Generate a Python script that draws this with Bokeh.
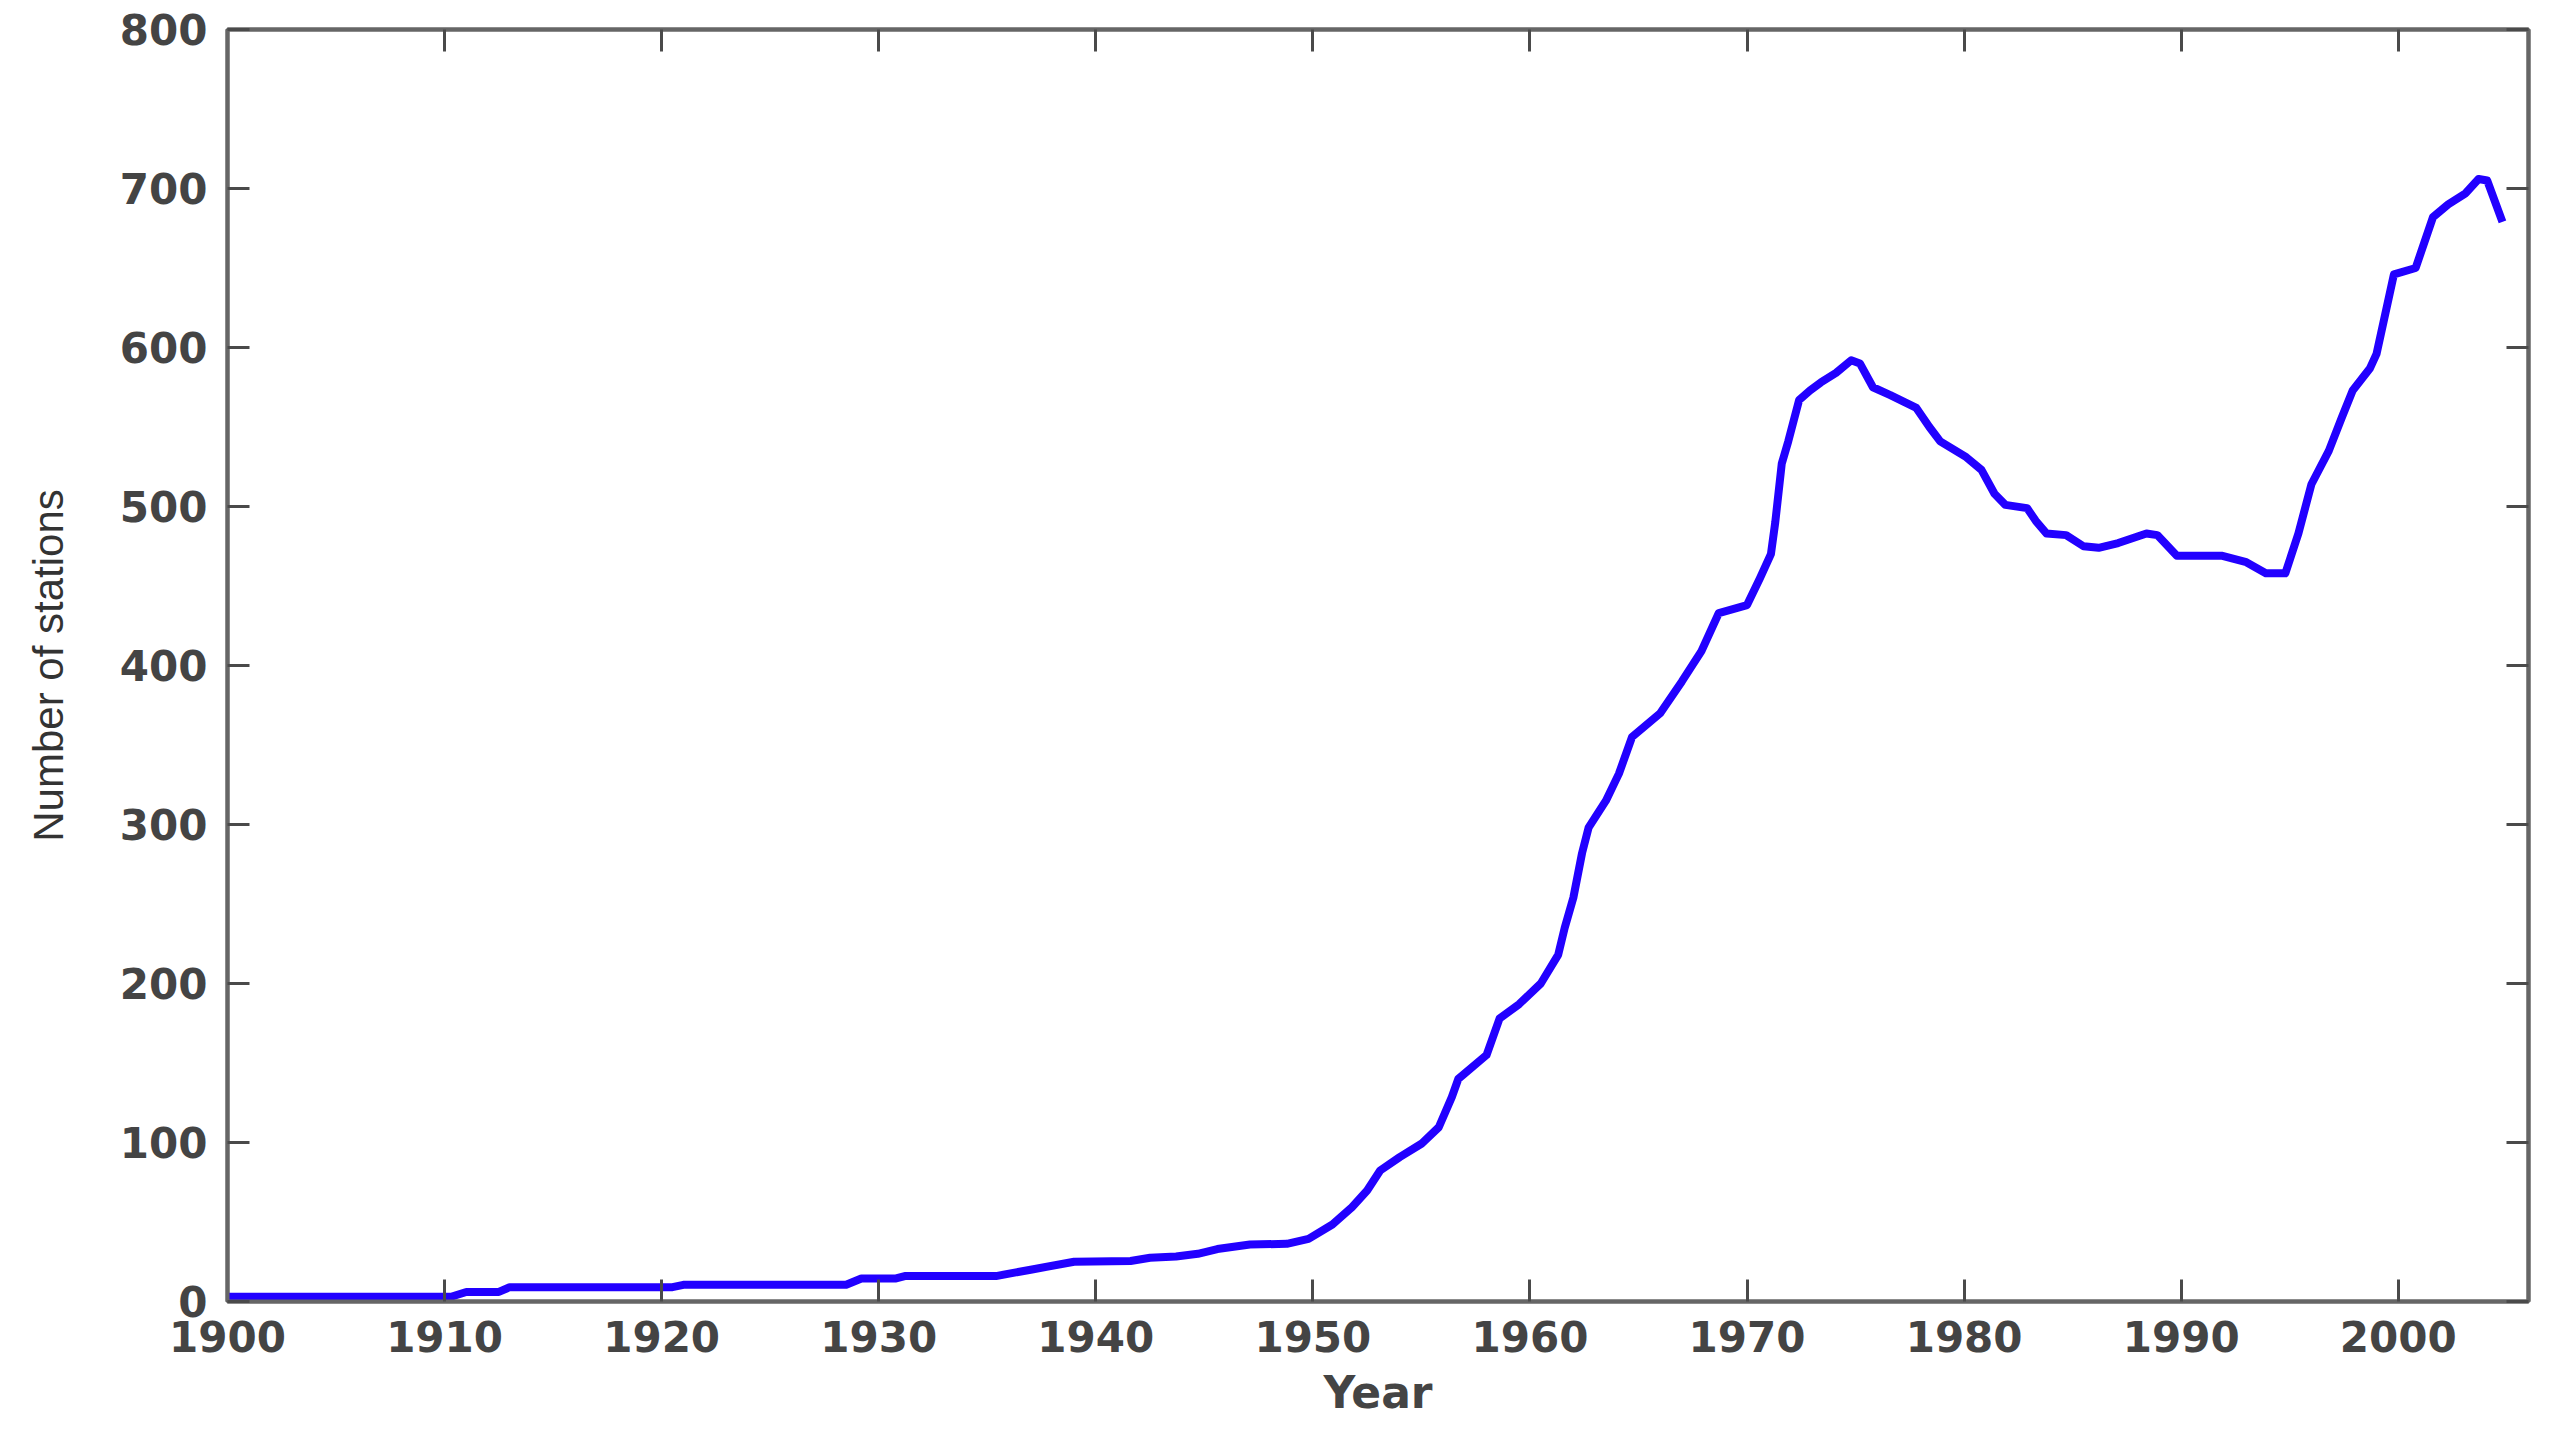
from bokeh.plotting import figure
from bokeh.models import Range1d, LinearAxis, FixedTicker
from bokeh.embed import file_html
from bokeh.resources import INLINE

# ---- data ----
years = [1900, 1910.3, 1911, 1912.5, 1913, 1920.5, 1921, 1928.5, 1929.2, 1930.8,
         1931.2, 1935.4, 1937, 1939, 1941.6, 1942.5, 1943.7, 1944.7, 1945.6, 1947.1,
         1948.8, 1949.8, 1950.9, 1951.8, 1952.5, 1953.1, 1954, 1955, 1955.8, 1956.4,
         1956.7, 1958, 1958.6, 1959.5, 1960.5, 1961.3, 1961.6, 1962, 1962.4, 1962.7,
         1963.5, 1964.1, 1964.7, 1966, 1967, 1967.9, 1968.7, 1970, 1970.6, 1971.1,
         1971.3, 1971.6, 1971.9, 1972.4, 1972.9, 1973.4, 1974.1, 1974.8, 1975.2, 1975.8,
         1976.6, 1977.8, 1978.4, 1978.9, 1980.1, 1980.8, 1981.4, 1981.9, 1982.9, 1983.3,
         1983.8, 1984.7, 1985.5, 1986.2, 1987.1, 1988.4, 1988.9, 1989.8, 1991.9, 1993,
         1993.9, 1994.8, 1995.4, 1996, 1996.8, 1997.4, 1997.9, 1998.7, 1999, 1999.4,
         1999.8, 2000.8, 2001.6, 2002.3, 2003.1, 2003.7, 2004.1, 2004.8]
stations = [3, 3, 6, 6, 9, 9, 10.5, 10.5, 14.5, 14.5,
            16, 16, 20, 25, 25.5, 27.5, 28.3, 30, 33, 35.8,
            36.3, 39.4, 48.4, 59.3, 69.8, 82.4, 90.8, 99.2, 109.6, 128.5,
            140, 155, 178, 187, 200, 218, 235, 254, 282, 298,
            315, 332, 355, 370, 390, 409, 433, 438, 455, 470,
            490, 527, 541, 567, 573, 578, 584, 592, 590, 575,
            570, 562, 550, 541, 531, 523, 508, 501, 499, 491,
            483, 482, 475, 474, 477, 483, 482, 469, 469, 465,
            458, 458, 483, 514, 535, 556, 573, 587, 596, 621,
            646, 650, 682, 690, 697, 706, 705, 679]

x_ticks = [1900, 1910, 1920, 1930, 1940, 1950, 1960, 1970, 1980, 1990, 2000]
y_ticks = [0, 100, 200, 300, 400, 500, 600, 700, 800]
x_label = "Year"
y_label = "Number of stations"

FRAME = "#666666"
TEXT = "#444444"
FONT = "DejaVu Sans"

p = figure(width=2560, height=1427, output_backend="svg", toolbar_location=None,
           x_range=Range1d(1900, 2006), y_range=Range1d(0, 800),
           frame_width=2301, frame_height=1272,
           min_border_left=227, min_border_top=29, min_border_right=32, min_border_bottom=126)
p.xgrid.visible = False
p.ygrid.visible = False
p.background_fill_color = "white"
p.border_fill_color = "white"
p.outline_line_color = FRAME
p.outline_line_width = 4

p.line(years, stations, line_color="#2200ff", line_width=8, line_join="round")

def style(ax):
    ax.axis_line_color = FRAME
    ax.axis_line_width = 4
    ax.major_tick_in = 22
    ax.major_tick_out = 0
    ax.major_tick_line_color = "#4a4a4a"
    ax.major_tick_line_width = 3
    ax.minor_tick_line_color = None
    ax.major_label_text_font = FONT
    ax.major_label_text_font_style = "bold"
    ax.major_label_text_font_size = "42px"
    ax.major_label_text_color = TEXT

xa = p.xaxis[0]
ya = p.yaxis[0]
style(xa); style(ya)
xa.ticker = FixedTicker(ticks=x_ticks)
ya.ticker = FixedTicker(ticks=y_ticks)
xa.major_label_standoff = 19
ya.major_label_standoff = 20
xa.axis_label = x_label
xa.axis_label_text_font = FONT
xa.axis_label_text_font_style = "bold"
xa.axis_label_text_font_size = "44px"
xa.axis_label_text_color = TEXT
xa.axis_label_standoff = 12
ya.axis_label = y_label
ya.axis_label_text_font = "Liberation Sans"
ya.axis_label_text_font_style = "normal"
ya.axis_label_text_font_size = "42px"
ya.axis_label_text_color = "#333333"
ya.axis_label_standoff = 45

top = LinearAxis(ticker=FixedTicker(ticks=x_ticks),
                 major_label_overrides={t: "" for t in x_ticks})
right = LinearAxis(ticker=FixedTicker(ticks=y_ticks),
                   major_label_overrides={t: "" for t in y_ticks})
for ax in (top, right):
    style(ax)
    ax.major_label_text_font_size = "1px"
    ax.major_label_standoff = 0
p.add_layout(top, "above")
p.add_layout(right, "right")

open("out.html", "w").write(file_html(p, INLINE))
